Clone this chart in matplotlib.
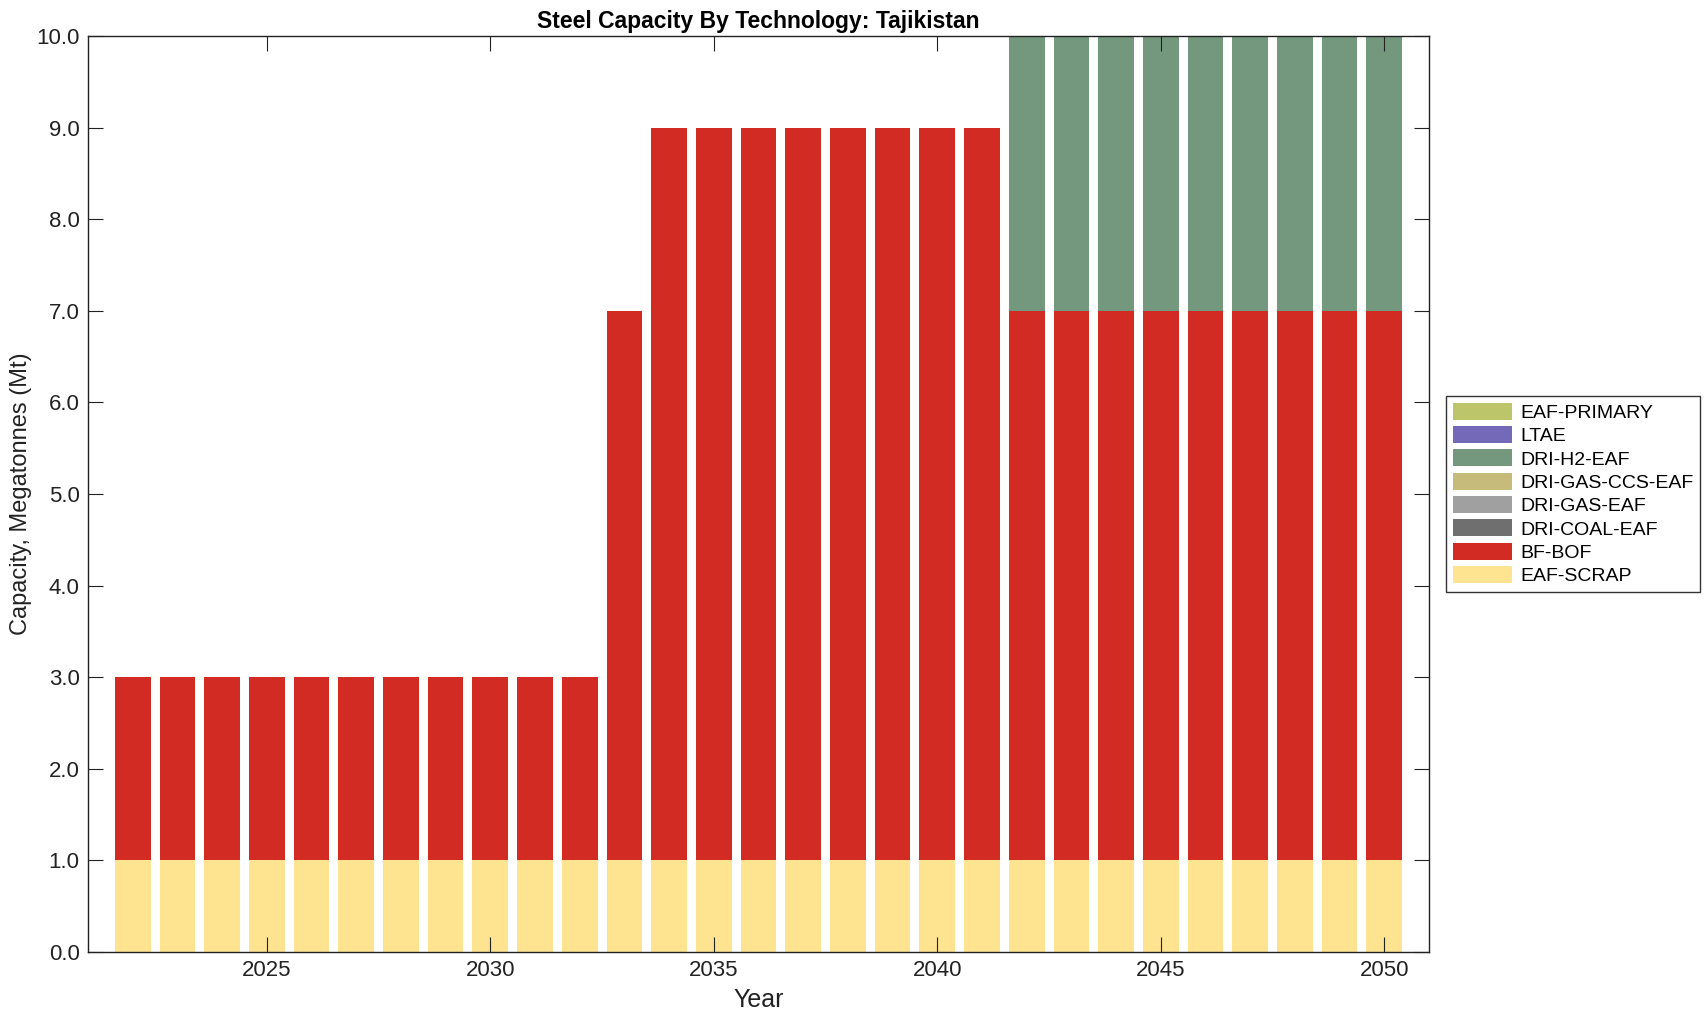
import numpy as np
import matplotlib.pyplot as plt

plt.rcParams['font.family'] = ['Liberation Sans', 'DejaVu Sans']

# years and capacity by technology (Mt)
years = list(range(2022, 2051))
eaf_scrap = [1] * 29
bf_bof = [2] * 11 + [6] + [8] * 8 + [6] * 9
dri_coal_eaf = [0] * 29
dri_gas_eaf = [0] * 29
dri_gas_ccs_eaf = [0] * 29
dri_h2_eaf = [0] * 20 + [3] * 9
ltae = [0] * 29
eaf_primary = [0] * 29

techs = ['EAF-SCRAP', 'BF-BOF', 'DRI-COAL-EAF', 'DRI-GAS-EAF',
         'DRI-GAS-CCS-EAF', 'DRI-H2-EAF', 'LTAE', 'EAF-PRIMARY']
series = [eaf_scrap, bf_bof, dri_coal_eaf, dri_gas_eaf,
          dri_gas_ccs_eaf, dri_h2_eaf, ltae, eaf_primary]
colors = ['#fee391', '#d22b24', '#6f6f6f', '#a0a0a0',
          '#c6bb7b', '#74987d', '#7468b8', '#bdc56a']

fig = plt.figure(figsize=(17.08, 10.21), dpi=100)
ax = fig.add_axes([88 / 1708, 1 - 952 / 1021, (1429 - 88) / 1708, (952 - 36) / 1021])

bottom = np.zeros(len(years))
handles = []
for name, vals, c in zip(techs, series, colors):
    b = ax.bar(years, vals, width=0.8, bottom=bottom, color=c, label=name)
    handles.append(b)
    bottom += np.array(vals)

ax.set_xlim(2021, 2051)
ax.set_ylim(0, 10)
ax.set_yticks(np.arange(0, 10.1, 1))
ax.set_yticklabels([f'{v:.1f}' for v in np.arange(0, 10.1, 1)])
ax.set_xticks([2025, 2030, 2035, 2040, 2045, 2050])
ax.tick_params(direction='in', top=True, right=True, labelsize=16, length=11, width=0.8,
               colors='#222222', pad=6)
for s in ax.spines.values():
    s.set_color('#222222')
    s.set_linewidth(1.0)

ax.set_xlabel('Year', fontsize=18, color='#222222', labelpad=5)
ax.set_ylabel('Capacity, Megatonnes (Mt)', fontsize=17, color='#222222', labelpad=3)
ax.set_title('Steel Capacity By Technology: Tajikistan', fontsize=16.5, fontweight='bold', pad=6)

leg = ax.legend(handles[::-1], techs[::-1], loc='center left', bbox_to_anchor=(1.013, 0.5),
                fontsize=14, frameon=True, fancybox=False, edgecolor='black',
                handlelength=3.0, handleheight=0.95, labelspacing=0.22, borderpad=0.35,
                handletextpad=0.45, borderaxespad=0)
leg.get_frame().set_linewidth(1.0)

plt.savefig('out.png')
